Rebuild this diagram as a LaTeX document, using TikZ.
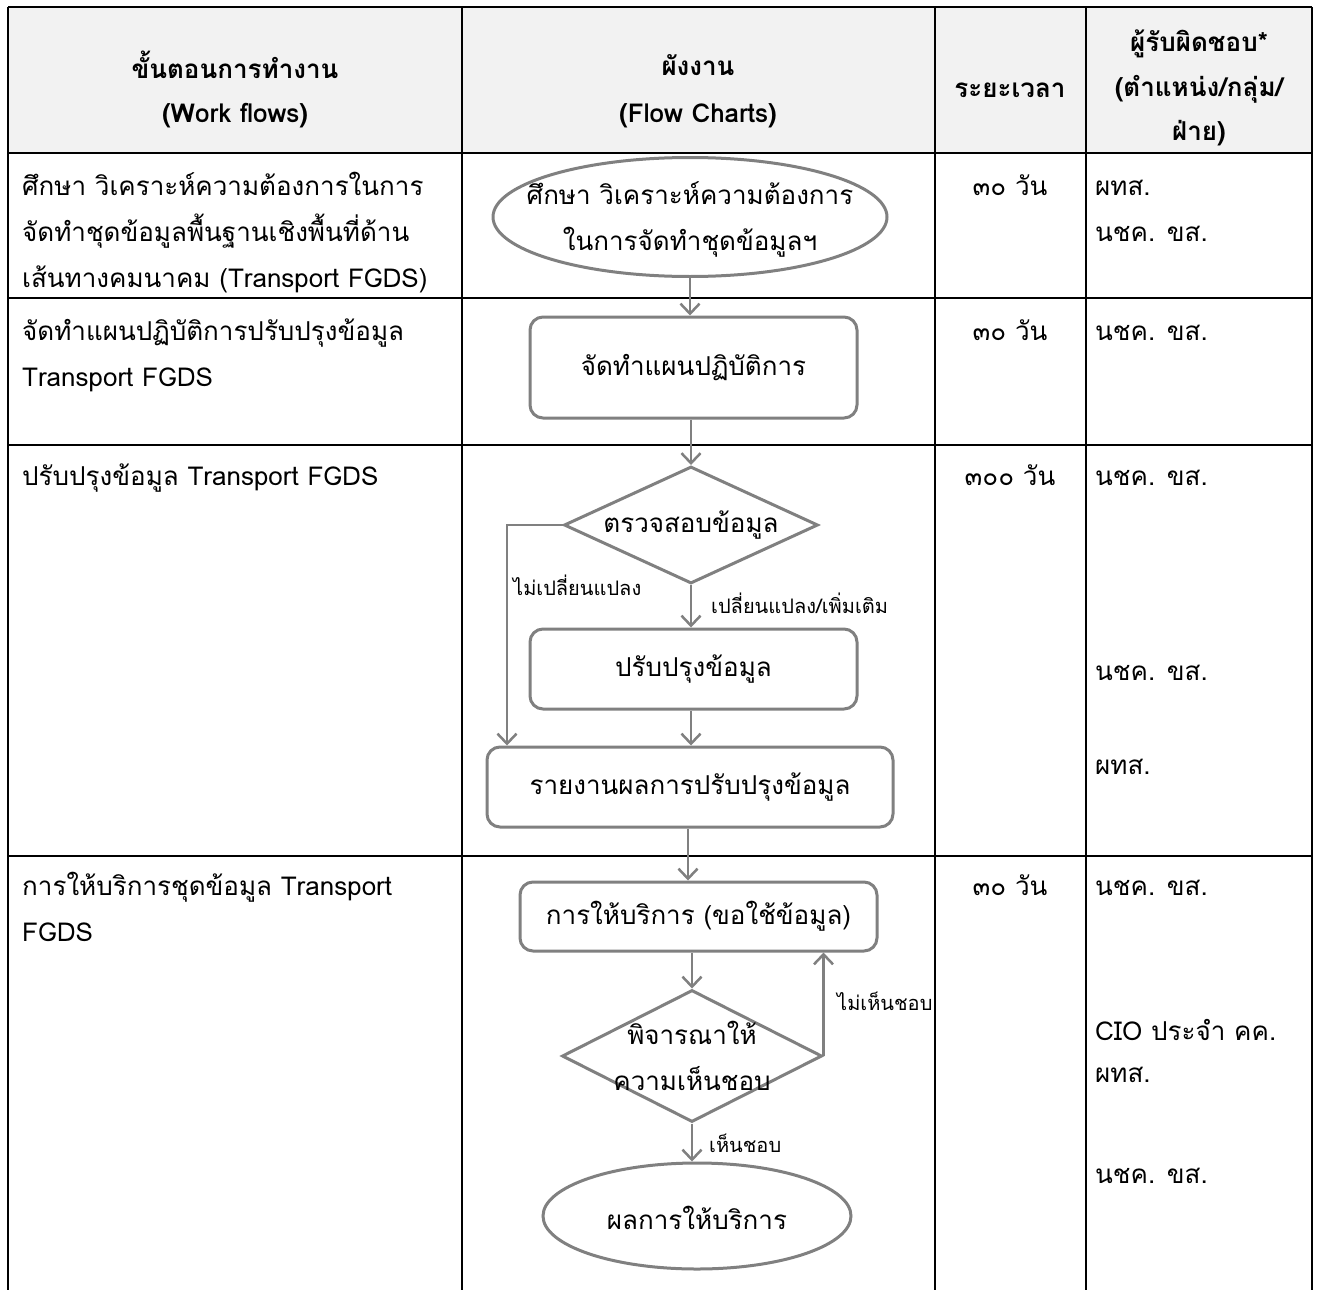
\documentclass[tikz,border=0pt]{standalone}
\usepackage{fontspec}
\setmainfont[Script=Thai]{Loma}
\usetikzlibrary{shapes.geometric,arrows.meta}
\definecolor{flowgray}{HTML}{808080}
\definecolor{headfill}{HTML}{F2F2F2}
\newcommand\bodyf{\fontsize{26}{46}\selectfont}
\newcommand\smallf{\fontsize{20}{24}\selectfont}
\begin{document}
\begin{tikzpicture}[x=1pt,y=-1pt,
  tab/.style={line width=2.5pt,draw=black},
  arr/.style={draw=flowgray,line width=2.5pt,-{Straight Barb[length=10pt,width=19pt]}},
  fbox/.style={draw=flowgray,line width=3pt,rounded corners=13pt,fill=white,font=\bodyf,inner sep=0pt,align=center},
  fell/.style={draw=flowgray,line width=3pt,ellipse,fill=white,inner sep=0pt},
  fdia/.style={draw=flowgray,line width=3pt,diamond,fill=white,inner sep=0pt},
  ftext/.style={font=\bodyf,inner sep=0pt,align=center},
  txt/.style={anchor=base west,font=\bodyf,inner sep=0pt},
  ctxt/.style={anchor=base,font=\bodyf,inner sep=0pt},
  hd/.style={anchor=base,font=\bodyf\bfseries,inner sep=0pt},
  lbl/.style={anchor=base west,font=\smallf,inner sep=0pt}]
\useasboundingbox (0,0) rectangle (1317,1290);
\fill[white] (0,0) rectangle (1317,1290);
% header background
\fill[headfill] (8,7) rectangle (1312,153);
% table grid
\draw[tab] (8,7) -- (1312,7);
\draw[tab] (8,153) -- (1312,153);
\draw[tab] (8,298) -- (1312,298);
\draw[tab] (8,445) -- (1312,445);
\draw[tab] (8,856) -- (1312,856);
\draw[tab] (8,7) -- (8,1290);
\draw[tab] (462,7) -- (462,1290);
\draw[tab] (935,7) -- (935,1290);
\draw[tab] (1086,7) -- (1086,1290);
\draw[tab] (1312,7) -- (1312,1290);
% header text
\node[hd] (h1a) at (235,78) {ขั้นตอนการทำงาน};
\node[hd] (h1b) at (235,122) {(Work flows)};
\node[hd] (h2a) at (698,76) {ผังงาน};
\node[hd] (h2b) at (698,122) {(Flow Charts)};
\node[hd] (h3a) at (1010,97) {ระยะเวลา};
\node[hd] (h4a) at (1199,52) {ผู้รับผิดชอบ*};
\node[hd] (h4b) at (1199,96) {(ตำแหน่ง/กลุ่ม/};
\node[hd] (h4c) at (1199,140) {ฝ่าย)};
% row 1
\node[txt] (r1a) at (22,195) {ศึกษา วิเคราะห์ความต้องการในการ};
\node[txt] (r1b) at (22,241) {จัดทำชุดข้อมูลพื้นฐานเชิงพื้นที่ด้าน};
\node[txt] (r1c) at (22,287) {เส้นทางคมนาคม (Transport FGDS)};
\node[ctxt] (r1t) at (1010,195) {๓๐ วัน};
\node[txt] (r1p) at (1095,195) {ผทส.};
\node[txt] (r1q) at (1095,241) {นชค. ขส.};
% row 2
\node[txt] (r2a) at (22,340) {จัดทำแผนปฏิบัติการปรับปรุงข้อมูล};
\node[txt] (r2b) at (22,386) {Transport FGDS};
\node[ctxt] (r2t) at (1010,340) {๓๐ วัน};
\node[txt] (r2p) at (1095,340) {นชค. ขส.};
% row 3
\node[txt] (r3a) at (22,485) {ปรับปรุงข้อมูล Transport FGDS};
\node[ctxt] (r3t) at (1010,485) {๓๐๐ วัน};
\node[txt] (r3p) at (1095,485) {นชค. ขส.};
\node[txt] (r3q) at (1095,680) {นชค. ขส.};
\node[txt] (r3r) at (1095,774) {ผทส.};
% row 4
\node[txt] (r4a) at (22,895) {การให้บริการชุดข้อมูล Transport};
\node[txt] (r4b) at (22,941) {FGDS};
\node[ctxt] (r4t) at (1010,895) {๓๐ วัน};
\node[txt] (r4p) at (1095,895) {นชค. ขส.};
\node[txt] (r4q) at (1095,1040) {CIO ประจำ คค.};
\node[txt] (r4r) at (1095,1082) {ผทส.};
\node[txt] (r4s) at (1095,1183) {นชค. ขส.};
% flowchart shapes
\node[fell,minimum width=394pt,minimum height=119pt] (e1) at (690,217) {};
\node[ftext] (e1t) at (690,219) {ศึกษา วิเคราะห์ความต้องการ\\ในการจัดทำชุดข้อมูลฯ};
\node[fbox,minimum width=327pt,minimum height=101pt] (b2) at (693.5,367.5) {จัดทำแผนปฏิบัติการ};
\node[fdia,minimum width=254pt,minimum height=117pt] (d3) at (691,525) {};
\node[ftext] (d3t) at (691,525) {ตรวจสอบข้อมูล};
\node[fbox,minimum width=327pt,minimum height=80pt] (b4) at (693.5,669) {ปรับปรุงข้อมูล};
\node[fbox,minimum width=406pt,minimum height=80pt] (b5) at (690,787) {รายงานผลการปรับปรุงข้อมูล};
\node[fbox,minimum width=357pt,minimum height=69pt] (b6) at (698.5,916.5) {การให้บริการ (ขอใช้ข้อมูล)};
\node[fdia,minimum width=260pt,minimum height=132pt] (d7) at (692,1056) {};
\node[ftext] (d7t) at (692,1056) {พิจารณาให้\\ความเห็นชอบ};
\node[fell,minimum width=308pt,minimum height=106pt] (e8) at (697,1216) {};
\node[ftext] (e8t) at (697,1218) {ผลการให้บริการ};
% helper coordinates
\coordinate (lx) at (507,0);
\coordinate (mx) at (688,0);
% connectors
\draw[arr] (e1.south) -- (e1.south |- b2.north);
\draw[arr] (d3.north |- b2.south) -- (d3.north);
\draw[arr] (d3.south) -- (d3.south |- b4.north);
\draw[arr] (d3.west) -| (lx |- b5.north);
\draw[arr] (d3.south |- b4.south) -- (d3.south |- b5.north);
\draw[arr] (mx |- b5.south) -- (mx |- b6.north);
\draw[arr] (d7.north |- b6.south) -- (d7.north);
\draw[arr] (d7.east) -- (d7.east |- b6.south);
\draw[arr] (d7.south) -- (d7.south |- e8.north);
% connector labels
\node[lbl] (l1) at (711,613) {เปลี่ยนแปลง/เพิ่มเติม};
\node[lbl] (l2) at (513,595) {ไม่เปลี่ยนแปลง};
\node[lbl] (l3) at (837,1010) {ไม่เห็นชอบ};
\node[lbl] (l4) at (709,1152) {เห็นชอบ};
\end{tikzpicture}
\end{document}
